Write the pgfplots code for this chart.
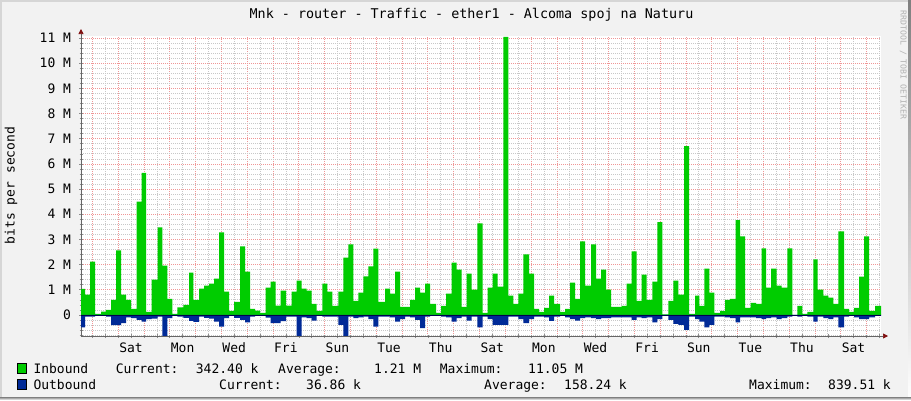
\documentclass[border=0pt]{standalone}
\usepackage{fontspec}
\setmainfont{DejaVu Sans Mono}
\usepackage{pgfplots}
\pgfplotsset{compat=1.18}
\usepackage{pgfplotstable}
\usetikzlibrary{arrows.meta}

\definecolor{back}{RGB}{242,242,242}
\definecolor{shade}{RGB}{160,160,160}
\definecolor{lite}{RGB}{214,214,214}
\definecolor{ingreen}{RGB}{0,204,0}
\definecolor{outblue}{RGB}{0,42,151}
\definecolor{mgrid}{RGB}{240,150,150}
\definecolor{mingrid}{RGB}{200,200,200}
\definecolor{arrowred}{RGB}{128,16,16}
\newcommand\rf{\fontsize{13}{15}\selectfont}

% x = pixel offset from the left edge of the canvas (800 px = 31 days), in/out in Mbit/s
\pgfplotstableread{
x in out
0 1.03 -0.50
4 0.80 -0.07
9 2.12 -0.07
14 0.04 -0.04
20 0.13 -0.04
25 0.20 -0.07
30 0.60 -0.41
35 2.56 -0.41
40 0.80 -0.33
45 0.60 -0.10
50 0.24 -0.13
55.7 4.50 -0.20
60.7 5.64 -0.27
65 0.12 -0.17
70.7 1.40 -0.15
76.7 3.48 -0.07
81.3 1.96 -0.835
86.3 0.64 -0.13
91.3 0.04 -0.04
96.3 0.30 -0.07
102.3 0.40 -0.12
108 1.68 -0.24
112.3 0.60 -0.28
118 1.04 -0.07
123 1.16 -0.12
128 1.24 -0.15
133 1.44 -0.27
138 3.28 -0.47
143 0.92 -0.13
148 0.16 -0.04
153 0.52 -0.12
159 2.72 -0.20
164 1.72 -0.30
169 0.24 -0.07
174 0.17 -0.04
179 0.08 -0.04
184.7 1.08 -0.11
189.7 1.32 -0.33
194.7 0.37 -0.33
199.7 0.96 -0.25
205 0.37 -0.07
210.7 0.92 -0.07
215.7 1.36 -0.835
220.7 1.04 -0.10
225.7 0.96 -0.13
230.7 0.44 -0.23
235.7 0.16 -0.04
241.3 1.24 -0.07
246.3 0.92 -0.07
251.3 0.36 -0.07
257.3 0.92 -0.40
262.3 2.27 -0.835
267.3 2.80 -0.07
272.3 0.56 -0.13
277.3 0.88 -0.10
282.3 1.53 -0.07
287.3 1.93 -0.17
292.3 2.63 -0.47
297.3 0.52 -0.07
304 1.04 -0.07
309 0.84 -0.10
314 1.72 -0.27
319 0.32 -0.17
324 0.32 -0.07
329 0.60 -0.10
334 1.08 -0.20
339 0.88 -0.53
344 1.24 -0.07
349 0.44 -0.04
355 0.08 -0.04
360 0.36 -0.07
365 0.84 -0.10
370.7 2.08 -0.27
375.7 1.80 -0.13
380.7 0.32 -0.07
385.7 1.64 -0.23
390.7 1.00 -0.07
396.3 3.64 -0.50
401.7 0.08 -0.07
406.7 1.08 -0.17
411.7 1.64 -0.40
416.7 1.12 -0.40
422.3 11.05 -0.40
427.3 0.76 -0.07
432.3 0.44 -0.07
437.3 0.84 -0.17
442.3 2.40 -0.33
448 1.64 -0.17
453 0.24 -0.07
458 0.12 -0.07
463 0.28 -0.10
468 0.76 -0.24
473 0.44 -0.07
479 0.12 -0.04
484 0.24 -0.10
489 1.28 -0.17
494 0.64 -0.23
499 2.92 -0.13
504 1.16 -0.10
510 2.80 -0.13
515 1.44 -0.17
520 1.80 -0.13
525 1.00 -0.13
530 0.32 -0.10
535.7 0.32 -0.10
540.7 0.36 -0.10
545.7 1.24 -0.10
550.7 2.52 -0.20
555.7 0.56 -0.10
560.7 1.60 -0.13
565.7 0.60 -0.10
571.3 1.32 -0.30
576.3 3.68 -0.17
581.3 0.02 -0.04
587.3 0.56 -0.20
592.3 1.36 -0.36
597.3 0.80 -0.40
603 6.70 -0.60
608 0.04 -0.07
614 0.76 -0.17
618.3 0.36 -0.27
623.3 1.84 -0.50
628.3 0.88 -0.40
633.3 0.08 -0.07
639 0.16 -0.07
644 0.60 -0.10
649 0.64 -0.13
654.7 3.76 -0.30
659 3.12 -0.10
664 0.28 -0.10
669.7 0.48 -0.10
675 0.44 -0.13
680.7 2.64 -0.17
685 1.08 -0.13
690 1.84 -0.10
695.7 1.16 -0.17
700.7 1.08 -0.13
706.3 2.64 -0.07
711.3 0.00 -0.04
716.3 0.36 -0.07
721.3 0.04 -0.04
726.3 0.12 -0.07
732.3 2.20 -0.27
736.7 1.00 -0.07
742.3 0.76 -0.13
747.3 0.68 -0.17
752.3 0.44 -0.10
757.3 3.32 -0.50
763 0.24 -0.07
768 0.12 -0.04
773 0.28 -0.10
778 1.52 -0.17
783 3.12 -0.17
788 0.16 -0.10
794 0.36 -0.04
800 0.34 -0.04
}\traffic

\begin{document}
\rf
\begin{tikzpicture}
\begin{scope}[x=1pt,y=1pt]
% image background with the 3d frame
\fill[back] (0,0) rectangle (911,400);
\fill[lite] (0,0) rectangle (2,400);
\fill[lite] (0,398) rectangle (911,400);
\fill[shade] (908,0) rectangle (911,400);
\fill[shade] (0,0) rectangle (911,3);
\end{scope}

\begin{axis}[
    at={(81pt,64pt)}, anchor=south west,
    scale only axis,
    width=800pt, height=300pt,
    xmin=0, xmax=800,
    ymin=-0.84, ymax=11.08,
    axis lines=left,
    axis line style={draw=black!60, line width=0.7pt, shorten >=-7pt,
        -{Triangle[length=5pt,width=5pt,color=arrowred]}},
    axis background/.style={fill=white},
    % noons (labels every 2nd day), midnights as minor ticks
    xtick={24.203,50.009,...,800},
    xticklabels={{},Sat,{},Mon,{},Wed,{},Fri,{},Sun,{},Tue,{},Thu,{},Sat,{},Mon,{},Wed,{},Fri,{},Sun,{},Tue,{},Thu,{},Sat,{}},
    minor xtick={11.3,37.106,...,790},
    ytick={0,1,...,11},
    yticklabels={0,1 M,2 M,3 M,4 M,5 M,6 M,7 M,8 M,9 M,10 M,11 M},
    minor ytick={-0.8,-0.6,...,11.05},
    xmajorgrids, xminorgrids, ymajorgrids, yminorgrids,
    major x grid style={draw=mingrid, line width=0.6pt, dash pattern=on 1pt off 1pt},
    minor x grid style={draw=mgrid, line width=0.6pt, dash pattern=on 1pt off 1pt},
    major y grid style={draw=mgrid, line width=0.6pt, dash pattern=on 1pt off 1pt},
    minor y grid style={draw=mingrid, line width=0.6pt, dash pattern=on 1pt off 1pt},
    tick align=center,
    major tick length=4pt, minor tick length=3pt,
    tick style={draw=black!45, line width=0.5pt},
    tick label style={font=\rf, text=black},
    yticklabel style={anchor=east, inner sep=0pt, xshift=-7.8pt},
    xticklabel style={anchor=base, inner sep=0pt, yshift=-14.4pt},
]
\addplot[const plot, fill=ingreen, draw=none] table[x=x, y=in] {\traffic} \closedcycle;
\addplot[const plot, fill=outblue, draw=none] table[x=x, y=out] {\traffic} \closedcycle;
\addplot[draw=black!70!blue, line width=0.5pt] coordinates {(0,0) (800,0)};
\end{axis}

\begin{scope}[x=1pt,y=1pt]
% title, axis label and watermark
\node[anchor=base, font=\fontsize{13.4}{15}\selectfont] at (471.5,381)
    {Mnk - router - Traffic - ether1 - Alcoma spoj na Naturu};
\node[rotate=90, anchor=base] at (14.5,214.5) {bits per second};
\node[rotate=-90, anchor=base west, text=black!30, font=\fontsize{8.2}{9}\selectfont]
    at (900.5,394) {RRDTOOL / TOBI OETIKER};

% legend
\filldraw[fill=ingreen, draw=black, line width=0.6pt] (17.3,26.7) rectangle (26.7,36.7);
\filldraw[fill=outblue, draw=black, line width=0.6pt] (17.3,11) rectangle (26.7,21);
\begin{scope}[every node/.style={anchor=base west, inner sep=0pt}]
\node at (33.3,26.7) {Inbound};
\node at (115.7,26.7) {Current:};
\node at (195.7,26.7) {342.40 k};
\node at (278,26.7) {Average:};
\node at (374,26.7) {1.21 M};
\node at (439.7,26.7) {Maximum:};
\node at (528,26.7) {11.05 M};
\node at (33.3,11) {Outbound};
\node at (219,11) {Current:};
\node at (306,11) {36.86 k};
\node at (484,11) {Average:};
\node at (564,11) {158.24 k};
\node at (749,11) {Maximum:};
\node at (828,11) {839.51 k};
\end{scope}
\end{scope}
\end{tikzpicture}
\end{document}
